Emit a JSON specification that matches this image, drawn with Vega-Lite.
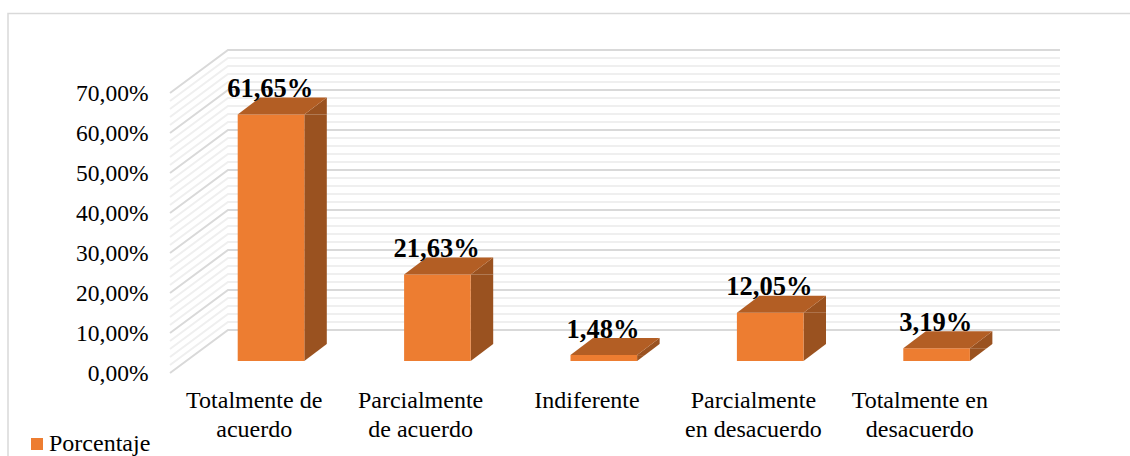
{
"$schema":"https://vega.github.io/schema/vega-lite/v6.json",
"width":832,"height":373,
"autosize":{"type":"none"},
"padding":{"left":171,"top":0,"right":127,"bottom":83},
"background":"white",
"config":{"view":{"stroke":null},"axis":{"title":null}},
"datasets":{
"barras":[
{"categoria":"Totalmente de acuerdo","porcentaje":61.65,"etiqueta":"61,65%","serie":"Porcentaje"},
{"categoria":"Parcialmente de acuerdo","porcentaje":21.63,"etiqueta":"21,63%","serie":"Porcentaje"},
{"categoria":"Indiferente","porcentaje":1.48,"etiqueta":"1,48%","serie":"Porcentaje"},
{"categoria":"Parcialmente en desacuerdo","porcentaje":12.05,"etiqueta":"12,05%","serie":"Porcentaje"},
{"categoria":"Totalmente en desacuerdo","porcentaje":3.19,"etiqueta":"3,19%","serie":"Porcentaje"}],
"menores":[{"t":2},{"t":4},{"t":6},{"t":8},{"t":12},{"t":14},{"t":16},{"t":18},{"t":22},{"t":24},{"t":26},{"t":28},{"t":32},{"t":34},{"t":36},{"t":38},{"t":42},{"t":44},{"t":46},{"t":48},{"t":52},{"t":54},{"t":56},{"t":58},{"t":62},{"t":64},{"t":66},{"t":68}],
"mayores":[{"t":0},{"t":10},{"t":20},{"t":30},{"t":40},{"t":50},{"t":60},{"t":70}],
"marco":[{"m":"borde"}]
},
"layer":[
{"data":{"name":"marco"},
 "mark":{"type":"point","shape":"M-246.2 83L-246.2 -359.5L876 -359.5","size":4,"stroke":"#d9d9d9","strokeWidth":1.5,"opacity":1},
 "encoding":{
  "x":{"datum":"Totalmente de acuerdo","type":"nominal","title":null,"scale":{"type":"band","paddingInner":0,"paddingOuter":0,"domain":["Totalmente de acuerdo","Parcialmente de acuerdo","Indiferente","Parcialmente en desacuerdo","Totalmente en desacuerdo"]},
   "axis":{"domain":false,"ticks":false,"grid":false,"labelFont":"Liberation Serif","labelFontSize":24,"labelColor":"#000000","labelAngle":0,"labelPadding":15.5,"labelLineHeight":28.5,"labelLimit":0,"labelOverlap":false,"labelFlush":false,
    "labelExpr":"datum.label == 'Totalmente de acuerdo' ? ['Totalmente de','acuerdo'] : datum.label == 'Parcialmente de acuerdo' ? ['Parcialmente','de acuerdo'] : datum.label == 'Parcialmente en desacuerdo' ? ['Parcialmente','en desacuerdo'] : datum.label == 'Totalmente en desacuerdo' ? ['Totalmente en','desacuerdo'] : datum.label"}},
  "y":{"datum":0,"type":"quantitative","title":null,"scale":{"domain":[0,93.25],"nice":false,"zero":false},
   "axis":{"domain":false,"ticks":false,"grid":false,"values":[0,10,20,30,40,50,60,70],"labelFont":"Liberation Serif","labelFontSize":23.5,"labelColor":"#000000","labelPadding":23,"labelFlush":false,"labelOverlap":false,"labelExpr":"replace(format(datum.value,'.2f'),'.',',') + '%'"}}}},
{"data":{"name":"menores"},
 "mark":{"type":"point","shape":"M-84.2 0L-26.2 -43L805.8 -43","size":4,"stroke":"#efefef","strokeWidth":2,"opacity":1},
 "encoding":{
  "x":{"datum":"Totalmente de acuerdo","type":"nominal","title":null},
  "y":{"field":"t","type":"quantitative","title":null}}},
{"data":{"name":"mayores"},
 "mark":{"type":"point","shape":"M-84.2 0L-26.2 -43L805.8 -43","size":4,"stroke":"#d9d9d9","strokeWidth":2,"opacity":1},
 "encoding":{
  "x":{"datum":"Totalmente de acuerdo","type":"nominal","title":null},
  "y":{"field":"t","type":"quantitative","title":null}}},
{"data":{"name":"barras"},
 "mark":{"type":"bar","width":22.5,"xOffset":61.35,"x2Offset":61.35,"yOffset":-12,"y2Offset":-12,"fill":"#9a5220"},
 "encoding":{
  "x":{"field":"categoria","type":"nominal","title":null},
  "y":{"field":"porcentaje","type":"quantitative","title":null},
  "y2":{"datum":0}}},
{"data":{"name":"barras"},
 "mark":{"type":"point","shape":"M50.1 0L72.6 -17L72.6 0Z","size":4,"filled":true,"fill":"#9a5220","stroke":null,"opacity":1,"yOffset":-12},
 "encoding":{
  "x":{"field":"categoria","type":"nominal","title":null},
  "y":{"field":"porcentaje","type":"quantitative","title":null}}},
{"data":{"name":"barras"},
 "mark":{"type":"point","shape":"M50.1 0L72.6 -17L74 -17L74 1L50.1 1Z","size":4,"filled":true,"fill":"#ffffff","stroke":null,"opacity":1,"yOffset":-12},
 "encoding":{
  "x":{"field":"categoria","type":"nominal","title":null},
  "y":{"datum":0,"type":"quantitative","title":null}}},
{"data":{"name":"barras"},
 "mark":{"type":"bar","width":66.6,"xOffset":16.8,"x2Offset":16.8,"yOffset":-12,"y2Offset":-12},
 "encoding":{
  "x":{"field":"categoria","type":"nominal","title":null},
  "y":{"field":"porcentaje","type":"quantitative","title":null},
  "y2":{"datum":0},
  "color":{"field":"serie","type":"nominal","scale":{"range":["#ed7d31"]},
   "legend":{"orient":"none","legendX":-146,"legendY":432,"title":null,"padding":0,"symbolType":"square","symbolSize":144,"symbolStrokeWidth":0,"symbolOpacity":1,"labelFont":"Liberation Serif","labelFontSize":24,"labelColor":"#000000","labelOffset":0,"labelLimit":0}}}},
{"data":{"name":"barras"},
 "mark":{"type":"point","shape":"M-16.5 0L50.1 0L72.6 -17L6 -17Z","size":4,"filled":true,"fill":"#b35e24","stroke":null,"opacity":1,"yOffset":-12},
 "encoding":{
  "x":{"field":"categoria","type":"nominal","title":null},
  "y":{"field":"porcentaje","type":"quantitative","title":null}}},
{"data":{"name":"barras"},
 "mark":{"type":"text","font":"Liberation Serif","fontWeight":"bold","fontSize":26.5,"color":"#000000","baseline":"alphabetic","align":"center","xOffset":16,"yOffset":-29.5},
 "encoding":{
  "x":{"field":"categoria","type":"nominal","title":null},
  "y":{"field":"porcentaje","type":"quantitative","title":null},
  "text":{"field":"etiqueta"}}}
]
}
